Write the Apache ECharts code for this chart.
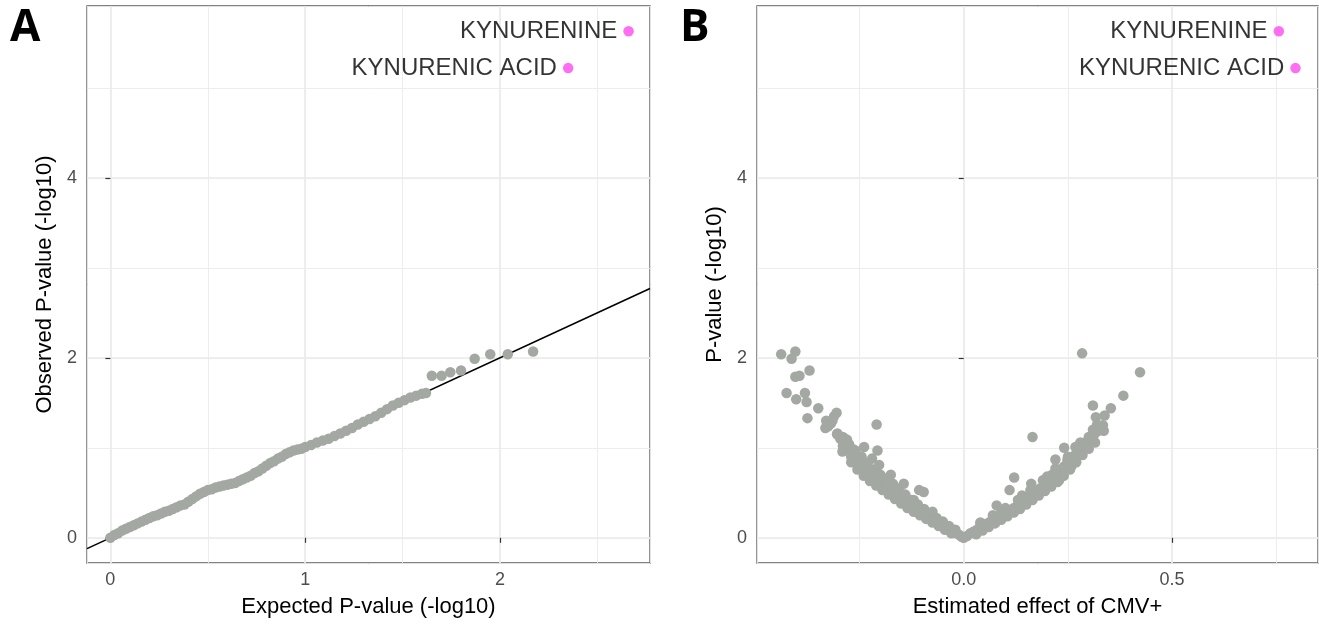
<!DOCTYPE html>
<html><head><meta charset="utf-8">
<script src="https://cdn.jsdelivr.net/npm/echarts@6/dist/echarts.min.js"></script>
<style>html,body{margin:0;padding:0;background:#fff}#c{width:1319px;height:625px}</style>
</head><body><div id="c"></div>
<script>
// ---------- Panel A: QQ plot (expected vs observed -log10 P) ----------
const qqExpected = [0.00,0.02,0.04,0.06,0.08,0.10,0.12,0.14,0.16,0.18,0.20,0.22,0.24,0.26,0.28,0.30,0.32,0.34,0.36,0.38,0.40,0.42,0.44,0.46,0.48,0.50,0.52,0.54,0.56,0.58,0.60,0.62,0.64,0.66,0.68,0.70,0.72,0.74,0.76,0.78,0.80,0.82,0.84,0.86,0.88,0.90,0.92,0.94,0.96,0.98,1.00,1.03,1.06,1.09,1.12,1.15,1.18,1.21,1.24,1.27,1.30,1.33,1.36,1.39,1.42,1.45,1.48,1.51,1.54,1.57,1.60,1.62,
  1.65,1.70,1.745,1.80,1.87,1.95,2.04,2.17];
const qqObserved = [0.00,0.03,0.05,0.08,0.10,0.12,0.14,0.16,0.18,0.20,0.22,0.24,0.25,0.27,0.29,0.30,0.32,0.34,0.36,0.37,0.40,0.43,0.46,0.49,0.51,0.53,0.54,0.56,0.57,0.58,0.59,0.60,0.61,0.63,0.65,0.67,0.69,0.72,0.74,0.77,0.80,0.83,0.85,0.88,0.90,0.93,0.95,0.97,0.98,0.99,1.01,1.03,1.06,1.08,1.10,1.13,1.16,1.19,1.22,1.26,1.29,1.32,1.35,1.39,1.43,1.47,1.50,1.53,1.56,1.58,1.60,1.61,
  1.80,1.80,1.84,1.86,1.99,2.04,2.04,2.07];
const identityLine = [-0.12, 2.77];   // y = x reference line end points

// ---------- Panel B: volcano plot (effect vs -log10 P) ----------
const volEffect = [
  // left arm, middle of band
  -0.005,-0.010,-0.018,-0.025,-0.032,-0.040,-0.048,-0.056,-0.064,-0.072,-0.080,-0.088,-0.096,-0.104,-0.112,-0.120,-0.128,-0.136,-0.144,-0.152,-0.160,-0.168,-0.176,-0.184,-0.192,-0.200,-0.208,-0.216,-0.224,-0.232,-0.240,-0.248,-0.256,-0.264,-0.272,-0.280,-0.288,-0.296,-0.304,
  // left arm, lower edge of band
  -0.030,-0.045,-0.060,-0.075,-0.090,-0.105,-0.120,-0.135,-0.150,-0.165,-0.180,-0.195,-0.210,-0.225,-0.240,-0.255,-0.270,
  // left arm, upper edge of band
  -0.020,-0.035,-0.050,-0.065,-0.080,-0.095,-0.110,-0.125,-0.140,-0.155,-0.170,-0.185,-0.200,-0.215,-0.230,-0.245,-0.260,-0.275,-0.290,
  // left arm, scattered
  -0.438,-0.413,-0.404,-0.404,-0.394,-0.370,-0.425,-0.402,-0.381,-0.377,-0.349,-0.375,-0.305,-0.209,-0.332,-0.319,-0.303,-0.280,-0.291,-0.264,-0.255,-0.239,-0.207,-0.203,-0.175,-0.144,-0.107,-0.096,-0.075,-0.311,-0.315,-0.325,-0.220,-0.190,
  -0.330,-0.290,-0.270,-0.230,-0.160,-0.120,-0.180,-0.210,-0.235,-0.260,-0.285,
  // right arm, middle of band
  0.000,0.008,0.016,0.024,0.032,0.040,0.048,0.056,0.064,0.072,0.080,0.088,0.096,0.104,0.112,0.120,0.128,0.136,0.144,0.152,0.160,0.168,0.176,0.184,0.192,0.200,0.208,0.216,0.224,0.232,0.240,0.248,0.256,0.264,0.272,0.280,0.288,0.296,0.304,0.312,0.320,0.328,0.334,
  // right arm, lower edge of band
  0.030,0.045,0.060,0.075,0.090,0.105,0.120,0.135,0.150,0.165,0.180,0.195,0.210,0.225,0.240,0.255,0.270,0.285,0.300,0.315,
  // right arm, upper side
  0.040,0.070,0.100,0.130,0.160,0.190,0.220,0.250,0.280,0.310,
  // right arm, scattered
  0.284,0.423,0.383,0.310,0.353,0.317,0.338,0.327,0.336,0.165,0.309,0.280,0.268,0.241,0.259,0.249,0.220,0.212,0.229,0.121,0.110,0.162,0.079,0.040,
  0.300,0.320,0.260,0.200,0.140,0.090];
const volP = [
  0.01,0.03,0.05,0.07,0.09,0.11,0.14,0.16,0.18,0.20,0.22,0.25,0.27,0.30,0.32,0.34,0.37,0.39,0.42,0.45,0.47,0.50,0.53,0.56,0.58,0.61,0.64,0.67,0.70,0.74,0.78,0.82,0.86,0.90,0.95,1.00,1.05,1.10,1.15,
  0.05,0.09,0.13,0.17,0.21,0.25,0.29,0.33,0.38,0.43,0.48,0.53,0.58,0.63,0.69,0.76,0.84,
  0.09,0.13,0.18,0.22,0.27,0.32,0.37,0.42,0.48,0.54,0.60,0.65,0.70,0.76,0.83,0.90,0.97,1.04,1.12,
  2.04,1.99,2.07,1.79,1.80,1.86,1.61,1.54,1.61,1.51,1.44,1.33,1.39,1.26,1.22,1.27,1.16,1.09,0.96,0.98,0.85,1.01,0.97,0.81,0.70,0.60,0.53,0.51,0.29,1.35,1.30,1.24,0.88,0.66,
  1.30,1.02,0.90,0.78,0.55,0.42,0.61,0.71,0.82,0.95,1.10,
  0.00,0.02,0.05,0.07,0.09,0.12,0.14,0.16,0.18,0.20,0.22,0.24,0.26,0.28,0.31,0.33,0.35,0.37,0.40,0.43,0.46,0.49,0.52,0.55,0.58,0.61,0.64,0.67,0.71,0.75,0.79,0.83,0.87,0.91,0.95,0.99,1.03,1.07,1.11,1.14,1.18,1.22,1.25,
  0.04,0.08,0.12,0.16,0.20,0.24,0.28,0.32,0.37,0.42,0.47,0.52,0.57,0.62,0.69,0.76,0.84,0.92,0.99,1.06,
  0.17,0.25,0.33,0.42,0.53,0.64,0.77,0.90,1.05,1.20,
  2.05,1.84,1.58,1.47,1.44,1.34,1.36,1.24,1.19,1.12,1.09,1.06,1.01,1.00,0.80,0.87,0.87,0.70,0.64,0.67,0.53,0.60,0.36,0.16,
  1.12,1.26,0.85,0.68,0.47,0.31];

// ---------- Highlighted metabolites ----------
const hitNames = ['KYNURENINE', 'KYNURENIC ACID'];
const hitExpected = [2.66, 2.35];
const hitObserved = [5.63, 5.22];
const hitEffect = [0.756, 0.796];
const hitP = [5.63, 5.22];

// ---------- Axis ticks / ranges ----------
const xTicksA = [0, 1, 2];
const xTicksB = [0, 0.5];
const yTicks = [0, 2, 4];
const xRangeA = [-0.12, 2.77];
const xRangeB = [-0.496, 0.850];
const yRange = [-0.28, 5.91];

const FONT = "'Liberation Sans', Arial, Helvetica, sans-serif";
const GREY = '#a3a8a2';
const PINK = '#ff48f0';
const GRIDC = '#ebebeb';
const PT = 10.5;

function onTick(v, ticks) { return ticks.some(t => Math.abs(t - v) < 1e-9); }

function majorAxis(gi, range, step, ticks, fmt, name, isX) {
  return {
    type: 'value', gridIndex: gi, min: range[0], max: range[1],
    minInterval: step, maxInterval: step, splitNumber: Math.round((range[1]-range[0])/step),
    position: isX ? 'bottom' : 'left',
    axisLine: { show: false },
    axisTick: { show: true, customValues: ticks, length: 5, inside: false, lineStyle: { color: '#333', width: 1.2 } },
    axisLabel: { show: true, customValues: ticks,
      formatter: v => onTick(v, ticks) ? fmt(v) : '', color: '#4d4d4d', fontSize: 18, fontFamily: FONT,
      margin: isX ? 8 : 10 },
    splitLine: { show: true, lineStyle: { color: GRIDC, width: 1.7 } },
    name: name, nameLocation: 'middle', nameGap: isX ? 33 : 31,
    nameTextStyle: { color: '#000', fontSize: 22, fontFamily: FONT }
  };
}
function minorAxis(gi, range, step, isX) {
  return {
    type: 'value', gridIndex: gi, min: range[0], max: range[1],
    minInterval: step, maxInterval: step, splitNumber: Math.round((range[1]-range[0])/step),
    position: isX ? 'top' : 'right',
    axisLine: { show: false }, axisTick: { show: false }, axisLabel: { show: false },
    splitLine: { show: true, lineStyle: { color: GRIDC, width: 0.9 } }
  };
}

const qqData = qqExpected.map((x, i) => [x, qqObserved[i]]);
const volData = volEffect.map((x, i) => [x, volP[i]]);
const hitA = hitExpected.map((x, i) => [x, hitObserved[i]]);
const hitB = hitEffect.map((x, i) => [x, hitP[i]]);

const hitLabel = {
  show: true, position: 'left', distance: 6,
  formatter: p => hitNames[p.dataIndex],
  color: '#000', fontSize: 24, fontFamily: FONT
};

const chart = echarts.init(document.getElementById('c'), null, { renderer: 'canvas' });
chart.setOption({
  animation: false,
  backgroundColor: '#fff',
  grid: [
    { left: 87, top: 6, width: 563, height: 557, show: true, borderColor: '#5a5a5a', borderWidth: 1.3, backgroundColor: 'transparent' },
    { left: 757, top: 6, width: 561, height: 557, show: true, borderColor: '#5a5a5a', borderWidth: 1.3, backgroundColor: 'transparent' }
  ],
  xAxis: [
    majorAxis(0, xRangeA, 1, xTicksA, v => String(v), 'Expected P-value (-log10)', true),
    minorAxis(0, xRangeA, 0.5, true),
    majorAxis(1, xRangeB, 0.5, xTicksB, v => v.toFixed(1), 'Estimated effect of CMV+', true),
    minorAxis(1, xRangeB, 0.25, true)
  ],
  yAxis: [
    majorAxis(0, yRange, 2, yTicks, v => String(v), 'Observed P-value (-log10)', false),
    minorAxis(0, yRange, 1, false),
    majorAxis(1, yRange, 2, yTicks, v => String(v), 'P-value (-log10)', false),
    minorAxis(1, yRange, 1, false)
  ],
  series: [
    { type: 'line', xAxisIndex: 0, yAxisIndex: 0, data: identityLine.map(v => [v, v]),
      symbol: 'none', lineStyle: { color: '#000', width: 1.6 }, clip: true, silent: true, z: 2 },
    { type: 'scatter', xAxisIndex: 0, yAxisIndex: 0, data: qqData, symbolSize: PT,
      itemStyle: { color: GREY, opacity: 1 }, silent: true, z: 3 },
    { type: 'scatter', xAxisIndex: 0, yAxisIndex: 0, data: hitA, symbolSize: PT,
      itemStyle: { color: PINK }, label: hitLabel, silent: true, z: 4 },
    { type: 'scatter', xAxisIndex: 2, yAxisIndex: 2, data: volData, symbolSize: PT,
      itemStyle: { color: GREY, opacity: 1 }, silent: true, z: 3 },
    { type: 'scatter', xAxisIndex: 2, yAxisIndex: 2, data: hitB, symbolSize: PT,
      itemStyle: { color: PINK }, label: hitLabel, silent: true, z: 4 }
  ],
  graphic: [
    { type: 'text', left: 10, top: 6, style: { text: 'A', font: "bold 44px 'Open Sans', 'DejaVu Sans', sans-serif", fill: '#000' } },
    { type: 'text', left: 680, top: 6, style: { text: 'B', font: "bold 44px 'Open Sans', 'DejaVu Sans', sans-serif", fill: '#000' } }
  ]
});
</script>
</body></html>
